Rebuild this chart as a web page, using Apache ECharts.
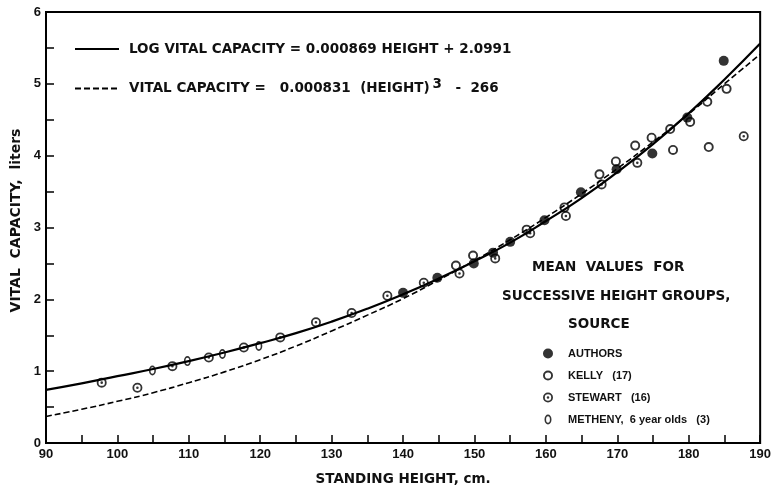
<!DOCTYPE html>
<html>
<head>
<meta charset="utf-8">
<script src="https://cdn.jsdelivr.net/npm/echarts@6/dist/echarts.min.js"></script>
<style>
html,body{margin:0;padding:0;background:#fff;}
#chart{width:774px;height:491px;}
</style>
</head>
<body>
<div id="chart"></div>
<script>
// ---- data ----
const curveHeights = [90,95,100,105,110,115,120,125,130,135,140,145,150,155,160,165,170,175,180,185,190];
const logCurveVC   = [0.74,0.83,0.93,1.03,1.14,1.26,1.39,1.53,1.69,1.87,2.07,2.29,2.53,2.79,3.09,3.41,3.77,4.16,4.59,5.06,5.56];
const cubeCurveVC  = [0.37,0.47,0.58,0.70,0.84,0.99,1.16,1.35,1.56,1.78,2.01,2.27,2.54,2.83,3.14,3.47,3.82,4.19,4.58,5.00,5.41];

const authorsH  = [140.0,144.8,149.9,152.6,155.0,159.8,164.9,169.9,174.9,179.8,184.9];
const authorsVC = [2.09,2.30,2.50,2.65,2.80,3.10,3.49,3.81,4.03,4.53,5.32];

const kellyH  = [147.4,149.8,157.3,162.6,167.5,169.8,172.5,174.8,177.4,177.8,180.2,182.6,182.8,185.3];
const kellyVC = [2.47,2.61,2.97,3.28,3.74,3.92,4.14,4.25,4.37,4.08,4.47,4.75,4.12,4.93];

const stewartH  = [97.8,102.8,107.7,112.8,117.7,122.8,127.8,132.8,137.8,142.9,147.9,152.9,157.8,162.8,167.8,172.8,187.7];
const stewartVC = [0.84,0.77,1.07,1.19,1.33,1.47,1.68,1.81,2.05,2.23,2.36,2.57,2.92,3.16,3.60,3.90,4.27];

const methenyH  = [104.9,109.8,114.7,119.8];
const methenyVC = [1.01,1.14,1.24,1.35];

const xTicks = [90,100,110,120,130,140,150,160,170,180,190];
const yTicks = [0,1,2,3,4,5,6];

const nameLog  = 'LOG VITAL CAPACITY = 0.000869 HEIGHT + 2.0991';
const nameCube = 'VITAL CAPACITY =  0.000831 (HEIGHT)3 - 266';
const nameAuthors = 'AUTHORS';
const nameKelly = 'KELLY   (17)';
const nameStewart = 'STEWART   (16)';
const nameMetheny = 'METHENY,  6 year olds   (3)';

// ---- helpers ----
const zip = (a, b) => a.map((v, i) => [v, b[i]]);
const FONT = 'DejaVu Sans';

const ringPath = 'path://M0,-10 A10,10 0 1,1 0,10 A10,10 0 1,1 0,-10 Z M0,-6.2 A6.2,6.2 0 1,0 0,6.2 A6.2,6.2 0 1,0 0,-6.2 Z';
const dotRingPath = 'path://M0,-10 A10,10 0 1,1 0,10 A10,10 0 1,1 0,-10 Z M0,-6.4 A6.4,6.4 0 1,0 0,6.4 A6.4,6.4 0 1,0 0,-6.4 Z M0,-2.6 A2.6,2.6 0 1,1 0,2.6 A2.6,2.6 0 1,1 0,-2.6 Z';
const ovalPath = 'path://M0,-10 A7,10 0 1,1 0,10 A7,10 0 1,1 0,-10 Z M0,-6.6 A3.8,6.6 0 1,0 0,6.6 A3.8,6.6 0 1,0 0,-6.6 Z';

const chart = echarts.init(document.getElementById('chart'), null, {renderer: 'canvas'});

const labelFont = {fontFamily: 'Liberation Sans', fontWeight: 'bold', fontSize: 13, color: '#111'};
const noteFont = 'bold 13.5px "DejaVu Sans"';

const option = {
  backgroundColor: '#fff',
  animation: false,
  grid: {left: 46, right: 13, top: 12, bottom: 43, show: true, borderColor: '#000', borderWidth: 2, backgroundColor: 'transparent'},
  xAxis: {
    type: 'value', min: xTicks[0], max: xTicks[xTicks.length - 1], interval: 10,
    name: 'STANDING HEIGHT, cm.', nameLocation: 'middle', nameGap: 29,
    nameTextStyle: {fontFamily: FONT, fontWeight: 'bold', fontSize: 13.5, color: '#111'},
    axisLine: {lineStyle: {color: '#000', width: 2}},
    axisTick: {inside: true, length: 8, lineStyle: {color: '#000', width: 1.5}},
    minorTick: {show: true, splitNumber: 2, length: 8, lineStyle: {color: '#000', width: 1.5}},
    axisLabel: Object.assign({margin: 5}, labelFont),
    splitLine: {show: false}
  },
  yAxis: {
    type: 'value', min: yTicks[0], max: yTicks[yTicks.length - 1], interval: 1,
    name: 'VITAL  CAPACITY,  liters', nameLocation: 'middle', nameGap: 19,
    nameTextStyle: {fontFamily: FONT, fontWeight: 'bold', fontSize: 14, color: '#111', padding: [0, 0, 0, 14]},
    axisLine: {lineStyle: {color: '#000', width: 2}},
    axisTick: {inside: true, length: 8, lineStyle: {color: '#000', width: 1.5}},
    minorTick: {show: true, splitNumber: 2, length: 8, lineStyle: {color: '#000', width: 1.5}},
    axisLabel: Object.assign({margin: 5}, labelFont),
    splitLine: {show: false}
  },
  legend: [
    {
      data: [nameLog, nameCube], orient: 'vertical', left: 69, top: 37,
      itemWidth: 44, itemHeight: 14, itemGap: 21, selectedMode: false,
      itemStyle: {opacity: 0},
      formatter: function (n) {
        if (n === nameCube) return 'VITAL CAPACITY =   0.000831  (HEIGHT){sup|3}  -  266';
        return n;
      },
      textStyle: {fontFamily: FONT, fontWeight: 'bold', fontSize: 13.5, color: '#111', padding: [0,0,0,5],
        rich: {sup: {fontFamily: FONT, fontWeight: 'bold', fontSize: 13.5, color: '#111', padding: [0,4,9,3]}}}
    },
    {
      data: [nameAuthors, nameKelly, nameStewart, nameMetheny], orient: 'vertical', left: 538, top: 343,
      itemWidth: 10, itemHeight: 10, itemGap: 11, selectedMode: false,
      textStyle: {fontFamily: 'Liberation Sans', fontWeight: 'bold', fontSize: 11, color: '#111', padding: [0,0,0,10]}
    }
  ],
  graphic: [
    {type: 'text', left: 532, top: 260, style: {text: 'MEAN  VALUES  FOR', font: noteFont, fill: '#111'}},
    {type: 'text', left: 502, top: 289, style: {text: 'SUCCESSIVE HEIGHT GROUPS,', font: noteFont, fill: '#111'}},
    {type: 'text', left: 568, top: 317, style: {text: 'SOURCE', font: noteFont, fill: '#111'}}
  ],
  series: [
    {name: nameLog, type: 'line', data: zip(curveHeights, logCurveVC), smooth: true, showSymbol: false, symbol: 'none',
      lineStyle: {color: '#000', width: 2.2}, itemStyle: {color: '#000'}, z: 2},
    {name: nameCube, type: 'line', data: zip(curveHeights, cubeCurveVC), smooth: true, showSymbol: false, symbol: 'none',
      lineStyle: {color: '#000', width: 1.6, type: [6, 3]}, itemStyle: {color: '#000'}, z: 2},
    {name: nameAuthors, type: 'scatter', data: zip(authorsH, authorsVC), symbol: 'circle', symbolSize: 10,
      itemStyle: {color: '#000'}, z: 5},
    {name: nameKelly, type: 'scatter', data: zip(kellyH, kellyVC), symbol: ringPath, symbolSize: 10,
      itemStyle: {color: '#000'}, z: 5},
    {name: nameStewart, type: 'scatter', data: zip(stewartH, stewartVC), symbol: dotRingPath, symbolSize: 10,
      itemStyle: {color: '#000'}, z: 5},
    {name: nameMetheny, type: 'scatter', data: zip(methenyH, methenyVC), symbol: ovalPath, symbolSize: [7, 10],
      itemStyle: {color: '#000'}, z: 5}
  ]
};
chart.setOption(option);
</script>
</body>
</html>
